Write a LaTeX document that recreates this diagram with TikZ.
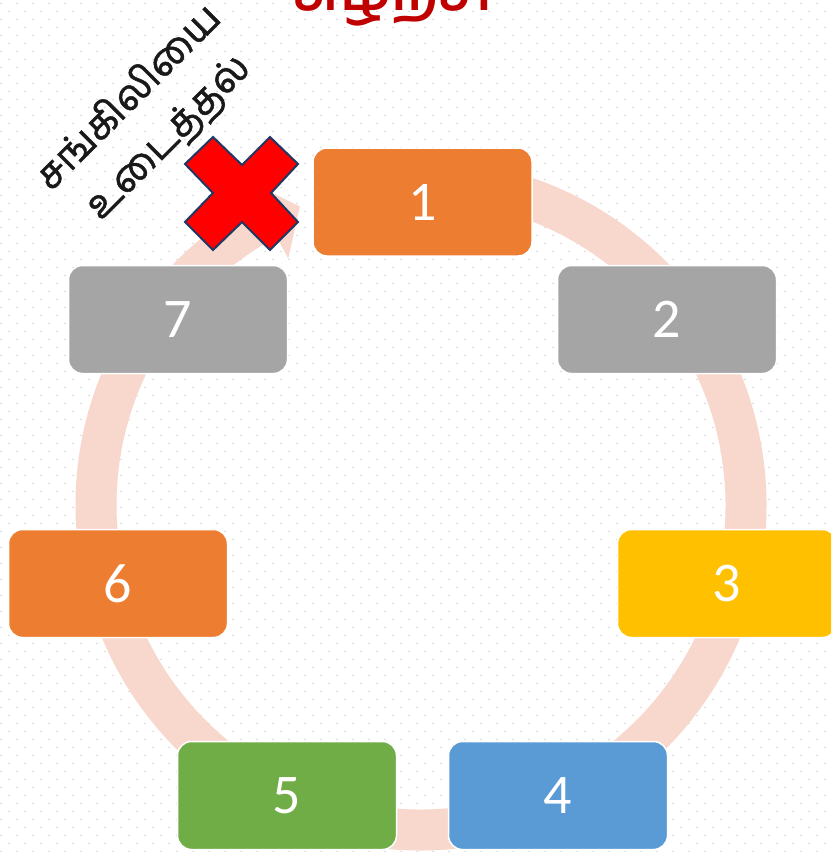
\documentclass[tikz,border=0pt]{standalone}
\usepackage{fontspec}
\setmainfont{Carlito}
\newfontfamily\tamil[Script=Tamil]{Hind Madurai}
\newfontfamily\tamilheavy[Script=Tamil, FakeBold=1.2]{Hind Madurai}
\definecolor{orangeA}{HTML}{ED7D31}
\definecolor{grayA}{HTML}{A5A5A5}
\definecolor{yellowA}{HTML}{FFC000}
\definecolor{blueA}{HTML}{5B9BD5}
\definecolor{greenA}{HTML}{70AD47}
\definecolor{ringc}{HTML}{F8D7CD}
\definecolor{dotc}{HTML}{D8D8D8}
\definecolor{titlec}{HTML}{C00000}
\definecolor{crossline}{HTML}{1F3864}
\tikzset{
  stepbox/.style={rectangle, rounded corners=14pt, minimum width=219pt, minimum height=108pt,
    draw=white, line width=1.5pt, text=white, inner sep=0pt,
    font=\fontsize{56}{60}\selectfont},
  ringpath/.style={draw=ringc, line width=41pt, line cap=butt},
}
\begin{document}
\begin{tikzpicture}[x=1pt,y=-1pt]
\useasboundingbox (0,0) rectangle (831,852);
\clip (0,0) rectangle (831,852);
\fill[white] (0,0) rectangle (831,852);
% dotted background
\foreach \j in {0,...,106}{
  \pgfmathsetmacro\off{mod(\j,2)*8+1}
  \foreach \i in {0,...,52}{
    \fill[dotc] (16*\i+\off, 8*\j+3.5) circle (0.8);
  }
}
% title (cut off at the top)
\node[anchor=base, text=titlec, font=\tamil\bfseries\fontsize{56}{60}\selectfont, inner sep=0pt] (title) at (393,10) {சுழற்சி};
% cycle ring
\coordinate (c) at (421,505);
\path[ringpath] ([shift={(265:325)}]c) arc[start angle=265, end angle=601.7, radius=325];
\fill[ringc] ([shift={(241.7:280)}]c) -- ([shift={(247.9:322)}]c) -- ([shift={(241.7:370)}]c) -- cycle;
% steps
\node[stepbox, fill=orangeA] (n1) at (422.5,202) {1};
\node[stepbox, fill=grayA]   (n2) at (667,319.5) {2};
\node[stepbox, fill=yellowA] (n3) at (727,583.5) {3};
\node[stepbox, fill=blueA]   (n4) at (558,795.5) {4};
\node[stepbox, fill=greenA]  (n5) at (287,795.5) {5};
\node[stepbox, fill=orangeA] (n6) at (118,583.5) {6};
\node[stepbox, fill=grayA]   (n7) at (178,319.5) {7};
% cross
\filldraw[fill=red, draw=crossline, line width=2pt, line join=miter]
  (185,164) -- (213,137) -- (242,165) -- (270,137) -- (298,164) -- (271,193) --
  (298,222) -- (270,250) -- (242,222) -- (213,250) -- (185,222) -- (213,193) -- cycle;
% rotated label
\node[rotate=45, align=center, text=black!90, inner sep=0pt,
  font=\tamilheavy\fontsize{40}{56}\selectfont] (brk) at (149,118) {சங்கிலியை\\உடைத்தல்};
\end{tikzpicture}
\end{document}
